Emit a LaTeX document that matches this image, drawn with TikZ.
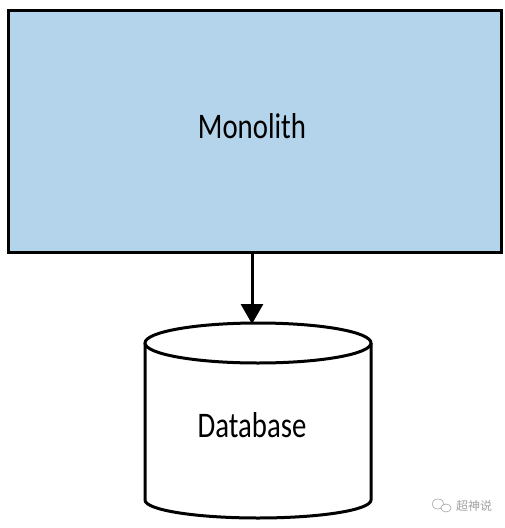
\documentclass[tikz,border=0pt]{standalone}
\usepackage{fontspec}
\setmainfont{Carlito}
\newfontfamily\lblfont[FakeStretch=0.8]{Carlito}
\newfontfamily\cjk{Noto Sans CJK SC}
\usetikzlibrary{arrows.meta}
\definecolor{boxblue}{HTML}{B3D4EA}
\definecolor{wmgray}{HTML}{A0A0A0}
\tikzset{
  outline/.style={line width=3pt, draw=black},
  lbl/.style={font=\lblfont\fontsize{36}{40}\selectfont, inner sep=0pt},
}
\begin{document}
\begin{tikzpicture}[x=1pt,y=-1pt]
\useasboundingbox (0,0) rectangle (505,528);
% monolith box
\node[outline, fill=boxblue, rectangle, minimum width=493pt, minimum height=242pt, inner sep=0pt, anchor=north west] (mono) at (6.5,8.5) {};
\node[lbl] (monotxt) at (252,126) {Monolith};
% database cylinder
\coordinate (dbtop) at (252,323);
\draw[outline, fill=white] (145,343) -- (145,500) arc[start angle=180, end angle=0, x radius=113, y radius=18] -- (371,343);
\draw[outline, fill=white] (258,343) ellipse[x radius=113, y radius=20];
\node[lbl] (dbtxt) at (252,425) {Database};
% arrow
\draw[line width=3pt, -{Triangle[width=22pt,length=20pt]}, shorten >=-1pt] (mono.south -| dbtop) -- (dbtop);
% watermark
\node[font=\cjk\fontsize{12}{14}\selectfont, text=wmgray, inner sep=0pt] (wm) at (474,506) {超神说};
\draw[wmgray, line width=0.6pt] (438,504) circle[x radius=6, y radius=5];
\draw[wmgray, line width=0.6pt, fill=white] (446,508) circle[x radius=5, y radius=4];
\end{tikzpicture}
\end{document}
